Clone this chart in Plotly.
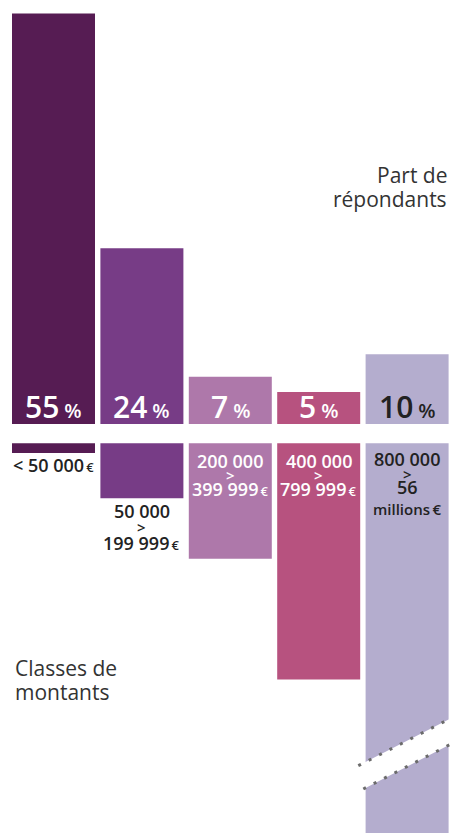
import plotly.graph_objects as go

# ---- data ----
categories = ["< 50 000 €", "50 000 > 199 999 €", "200 000 > 399 999 €",
              "400 000 > 799 999 €", "800 000 > 56 millions €"]
share_pct = [55, 24, 7, 5, 10]                       # part de répondants (%)
class_upper = [50000, 200000, 400000, 800000, 56000000]  # borne haute de la classe (€)
pct_labels = ["55", "24", "7", "5", "10"]
class_lines = [
    ["< 50 000|€"],
    ["50 000", ">", "199 999|€"],
    ["200 000", ">", "399 999|€"],
    ["400 000", ">", "799 999|€"],
    ["800 000", ">", "56", "millions|€"],
]

colors = ["#561c53", "#773c86", "#ae78aa", "#b7527f", "#b4adce"]
pct_text_colors = ["white", "white", "white", "white", "#222222"]
class_text_colors = ["#222222", "#222222", "white", "white", "#222222"]

W, H = 451, 833
FONT = "Open Sans"


def py(px):
    return 1 - px / H


xs = list(range(len(categories)))
fig = go.Figure()
fig.add_trace(go.Bar(x=xs, y=share_pct, marker=dict(color=colors, line=dict(width=0)),
                     width=0.939, yaxis="y", xaxis="x", hoverinfo="skip"))
fig.add_trace(go.Bar(x=xs, y=class_upper, marker=dict(color=colors, line=dict(width=0)),
                     width=0.939, yaxis="y2", xaxis="x", hoverinfo="skip"))

top_base_px = 424
bot_base_px = 443.3

annotations = []
# percentage labels
for i, lab in enumerate(pct_labels):
    annotations.append(dict(
        x=i, xref="x", y=py(406), yref="paper", yanchor="middle", xanchor="center",
        text=f'{lab}\u2009<span style="font-size:20px">%</span>', showarrow=False,
        font=dict(family=FONT, size=30, color=pct_text_colors[i], weight=600)))

# class labels (one annotation per line)
line_pos = [
    [464.5],
    [511, 526.5, 542.5],
    [460.5, 475, 489],
    [460.5, 475, 489],
    [459.5, 474, 487, 509],
]
for i, lines in enumerate(class_lines):
    for j, ln in enumerate(lines):
        size = 18
        esize = 13
        if ln == ">":
            size = 15
        if ln.startswith("millions"):
            size = 15
            esize = 15
        if "|" in ln:
            a, b = ln.split("|")
            txt = f'{a}<span style="font-size:{esize}px">\u2009{b}</span>'
        else:
            txt = ln
        annotations.append(dict(
            x=i, xref="x", y=py(line_pos[i][j]), yref="paper", yanchor="middle",
            xanchor="center", text=txt, showarrow=False,
            font=dict(family=FONT, size=size, color=class_text_colors[i], weight=600)))

for txt, ypx in [("Part de", 175), ("répondants", 199)]:
    annotations.append(dict(x=449 / W, xref="paper", y=py(ypx), yref="paper",
                            xanchor="right", yanchor="middle", align="right",
                            text=txt, showarrow=False,
                            font=dict(family=FONT, size=21, color="#333333")))
for txt, ypx in [("Classes de", 668), ("montants", 692)]:
    annotations.append(dict(x=13 / W, xref="paper", y=py(ypx), yref="paper",
                            xanchor="left", yanchor="middle", align="left",
                            text=txt, showarrow=False,
                            font=dict(family=FONT, size=21, color="#333333")))

# axis break on the last bar
slope = -0.513
def ly(x0, y0, x):
    return y0 + slope * (x - x0)

shapes = []
ux0, uy0 = 358.3, 765.7
lx0, ly0 = 363.3, 789.0
path = (f"M {365/W},{py(ly(ux0, uy0, 365))} L {1.0},{py(ly(ux0, uy0, 451))} "
        f"L {1.0},{py(ly(lx0, ly0, 451))} L {365/W},{py(ly(lx0, ly0, 365))} Z")
shapes.append(dict(type="path", xref="paper", yref="paper", path=path,
                   fillcolor="white", line=dict(width=0), layer="above"))
for (x0, y0) in [(ux0, uy0), (lx0, ly0)]:
    shapes.append(dict(type="line", xref="paper", yref="paper",
                       x0=x0 / W, y0=py(y0), x1=451 / W, y1=py(ly(x0, y0, 451)),
                       line=dict(color="#6b6b6b", width=3, dash="3px,8.7px"),
                       layer="above"))

fig.update_layout(
    width=W, height=H, margin=dict(l=0, r=0, t=0, b=0),
    paper_bgcolor="white", plot_bgcolor="white", showlegend=False,
    font=dict(family=FONT),
    xaxis=dict(range=[-53.5 / 88.4, (451 - 53.5) / 88.4], visible=False,
               fixedrange=True, anchor="y"),
    yaxis=dict(domain=[py(top_base_px), 1], range=[0.773, 56.78], visible=False,
               fixedrange=True),
    yaxis2=dict(domain=[0, py(bot_base_px)], range=[1309000, 17600], visible=False,
                fixedrange=True, anchor="x"),
    annotations=annotations, shapes=shapes,
)

fig.write_html("out.html", config={"displayModeBar": False},
               post_script="document.body.style.margin='0';document.body.style.overflow='hidden';")
